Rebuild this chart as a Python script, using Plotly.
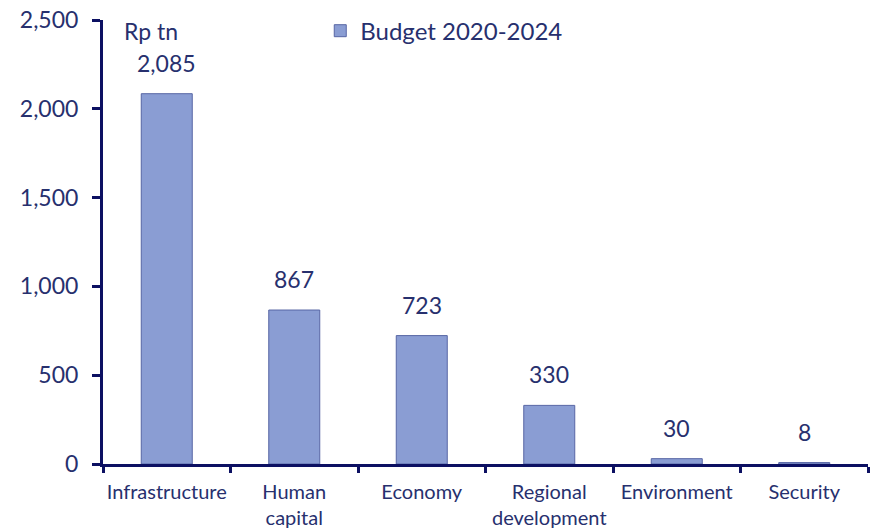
import plotly.graph_objects as go

categories = ["Infrastructure", "Human<br>capital", "Economy", "Regional<br>development", "Environment", "Security"]
values = [2085, 867, 723, 330, 30, 8]
value_labels = ["2,085", "867", "723", "330", "30", "8"]
series_name = "Budget 2020-2024"
y_ticks = [0, 500, 1000, 1500, 2000, 2500]
y_tick_text = ["0", "500", "1,000", "1,500", "2,000", "2,500"]

TEXT = "#27306e"
AXIS = "#0c1062"
BAR = "#8a9dd3"
BAR_LINE = "#5766a4"
FONT = "Lato, 'Open Sans', sans-serif"

fig = go.Figure()
fig.add_trace(go.Bar(
    x=categories, y=values, name=series_name,
    marker=dict(color=BAR, line=dict(color=BAR_LINE, width=1)),
    showlegend=True,
))

for c, v, t in zip(categories, values, value_labels):
    fig.add_annotation(x=c, y=v, text=t, showarrow=False, yanchor="bottom",
                       yshift=15, font=dict(size=23, color=TEXT, family=FONT))

fig.add_annotation(xref="paper", yref="paper", x=0.025, y=0.975, text="Rp tn",
                   showarrow=False, xanchor="left", yanchor="middle",
                   font=dict(size=23, color=TEXT, family=FONT))

fig.update_layout(
    width=874, height=528,
    margin=dict(l=103, r=6, t=20, b=64, autoexpand=False),
    paper_bgcolor="white", plot_bgcolor="white",
    bargap=0.6,
    font=dict(family=FONT, color=TEXT),
    legend=dict(orientation="h", x=0.284, y=0.975, xanchor="left", yanchor="middle",
                font=dict(size=24, color=TEXT, family=FONT),
                bgcolor="rgba(0,0,0,0)", itemwidth=30),
    xaxis=dict(showline=True, linecolor=AXIS, linewidth=3, ticks="outside",
               tickson="boundaries", ticklen=6, tickwidth=3, tickcolor=AXIS,
               automargin=False, ticklabelstandoff=8, tickangle=0,
               tickfont=dict(size=20, color=TEXT, family=FONT), showgrid=False),
    yaxis=dict(range=[0, 2500], tickvals=y_ticks, ticktext=y_tick_text,
               showline=True, linecolor=AXIS, linewidth=3, ticks="outside",
               ticklen=8, tickwidth=3, tickcolor=AXIS, showgrid=False,
               automargin=False, ticklabelstandoff=9,
               zeroline=False, tickfont=dict(size=23, color=TEXT, family=FONT)),
)

fig.write_html("out.html", config={"displayModeBar": False},
               post_script="document.body.style.margin='0';")
